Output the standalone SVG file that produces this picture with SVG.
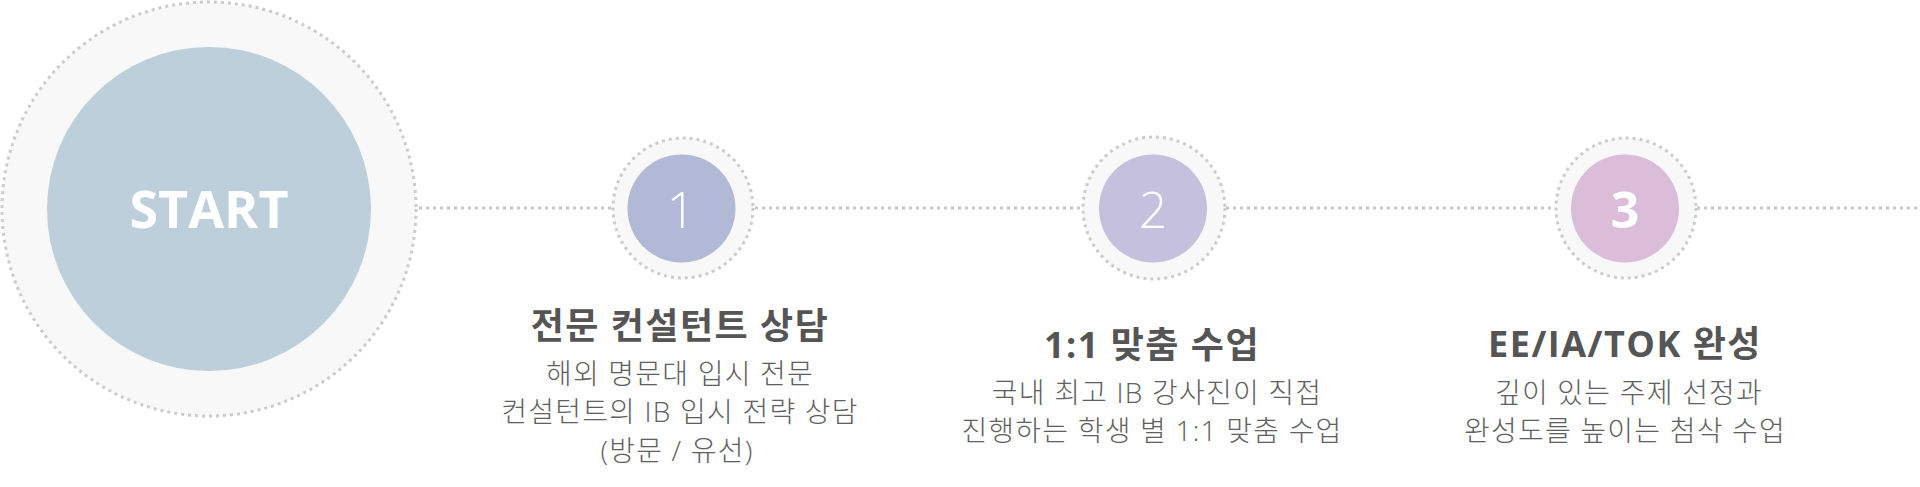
<svg xmlns="http://www.w3.org/2000/svg" width="1920" height="487" viewBox="0 0 1920 487">
<style>
.ring{fill:#f8f8f8;stroke:#cccccc;stroke-width:3;stroke-dasharray:3 4}
.conn{stroke:#c6c6c6;stroke-width:3;stroke-dasharray:3 4;fill:none}
.num{font-family:"Open Sans","Noto Sans",sans-serif;fill:#fff;text-anchor:middle}
.title{font-family:"Open Sans","Noto Sans CJK KR",sans-serif;font-weight:700;font-size:36px;fill:#555;text-anchor:middle;letter-spacing:1.5px}
.desc{font-family:"Open Sans","Noto Sans CJK KR",sans-serif;font-weight:300;font-size:28px;fill:#606060;text-anchor:middle;letter-spacing:1.2px}
</style>
<rect width="1920" height="487" fill="#fff"/>
<g id="connectors">
<line class="conn" x1="419" y1="208" x2="612" y2="208"/>
<line class="conn" x1="755" y1="208" x2="1082" y2="208"/>
<line class="conn" x1="1226" y1="208" x2="1555" y2="208"/>
<line class="conn" x1="1697" y1="208" x2="1920" y2="208"/>
</g>
<g id="start">
<circle class="ring" cx="209" cy="209" r="207"/>
<circle cx="209" cy="209" r="162" fill="#bccfdb"/>
<text class="num" x="209" y="228" font-size="52" font-weight="700">START</text>
</g>
<g id="step1">
<circle class="ring" cx="683" cy="208" r="70"/>
<circle cx="681.5" cy="208.5" r="54" fill="#b1b9d6"/>
<text class="num" x="681" y="228" font-size="50" font-weight="300">1</text>
<text class="title" x="680" y="339" letter-spacing="2.5">전문 컨설턴트 상담</text>
<text class="desc" x="680" y="384">해외 명문대 입시 전문</text>
<text class="desc" x="680" y="422">컨설턴트의 IB 입시 전략 상담</text>
<text class="desc" x="677" y="461">(방문 / 유선)</text>
</g>
<g id="step2">
<circle class="ring" cx="1154" cy="208" r="71"/>
<circle cx="1153" cy="208.5" r="54" fill="#c4c0de"/>
<text class="num" x="1153" y="228" font-size="50" font-weight="300">2</text>
<text class="title" x="1152" y="358">1:1 맞춤 수업</text>
<text class="desc" x="1157" y="403">국내 최고 IB 강사진이 직접</text>
<text class="desc" x="1152" y="441">진행하는 학생 별 1:1 맞춤 수업</text>
</g>
<g id="step3">
<circle class="ring" cx="1626" cy="208" r="70"/>
<circle cx="1625" cy="208.5" r="54" fill="#dcbdd9"/>
<text class="num" x="1625" y="228" font-size="50" font-weight="700">3</text>
<text class="title" x="1625" y="357" letter-spacing="0">EE/IA/TOK 완성</text>
<text class="desc" x="1629" y="403">깊이 있는 주제 선정과</text>
<text class="desc" x="1625" y="441">완성도를 높이는 첨삭 수업</text>
</g>
</svg>
